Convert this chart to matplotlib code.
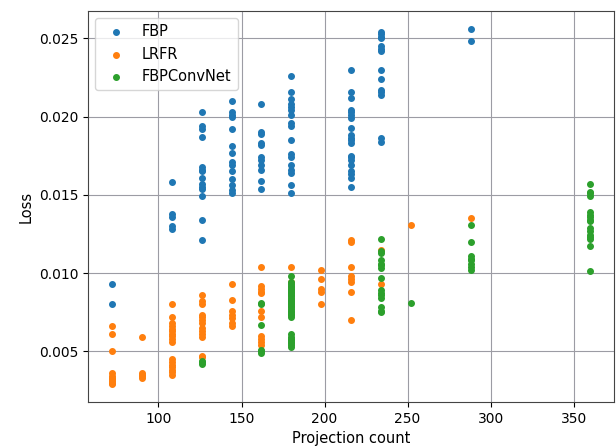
import matplotlib
matplotlib.use('Agg')
import matplotlib.pyplot as plt

# loss per projection count
fbp_loss = {
    72: [0.0093, 0.0080],
    108: [0.0158, 0.0138, 0.0136, 0.0130, 0.0128],
    126: [0.0203, 0.0194, 0.0192, 0.0187, 0.0168, 0.0166, 0.0165, 0.0161,
          0.0157, 0.0155, 0.0154, 0.0149, 0.0134, 0.0121],
    144: [0.0210, 0.0203, 0.0201, 0.0200, 0.0192, 0.0181, 0.0177, 0.0171,
          0.0169, 0.0165, 0.0160, 0.0156, 0.0153, 0.0151],
    162: [0.0208, 0.0190, 0.0189, 0.0183, 0.0182, 0.0174, 0.0172, 0.0169,
          0.0166, 0.0159, 0.0154],
    180: [0.0226, 0.0216, 0.0211, 0.0208, 0.0206, 0.0204, 0.0201, 0.0196,
          0.0194, 0.0185, 0.0176, 0.0174, 0.0169, 0.0166, 0.0164, 0.0156, 0.0151],
    216: [0.0230, 0.0216, 0.0212, 0.0204, 0.0203, 0.0201, 0.0199, 0.0193,
          0.0188, 0.0186, 0.0185, 0.0183, 0.0175, 0.0174, 0.0172, 0.0169,
          0.0165, 0.0163, 0.0161, 0.0155],
    234: [0.0254, 0.0253, 0.0251, 0.0250, 0.0245, 0.0243, 0.0242, 0.0230,
          0.0224, 0.0217, 0.0216, 0.0214, 0.0186, 0.0184],
    288: [0.0256, 0.0248],
}

lrfr_loss = {
    72: [0.0066, 0.0061, 0.0050, 0.0036, 0.0034, 0.0033, 0.0032, 0.0031, 0.0030, 0.0029],
    90: [0.0059, 0.0036, 0.0035, 0.0034, 0.0033],
    108: [0.0080, 0.0072, 0.0068, 0.0066, 0.0064, 0.0063, 0.0061, 0.0060,
          0.0058, 0.0056, 0.0045, 0.0043, 0.0041, 0.0040, 0.0038, 0.0037, 0.0035],
    126: [0.0086, 0.0082, 0.0080, 0.0073, 0.0072, 0.0070, 0.0068, 0.0065,
          0.0063, 0.0061, 0.0059, 0.0047, 0.0046],
    144: [0.0093, 0.0083, 0.0076, 0.0073, 0.0071, 0.0068, 0.0066],
    162: [0.0104, 0.0092, 0.0090, 0.0088, 0.0087, 0.0076, 0.0072, 0.0060,
          0.0058, 0.0056, 0.0054],
    180: [0.0104, 0.0094, 0.0088, 0.0082],
    198: [0.0102, 0.0096, 0.0090, 0.0088, 0.0080],
    216: [0.0121, 0.0120, 0.0104, 0.0098, 0.0096, 0.0094, 0.0088, 0.0070],
    234: [0.0115, 0.0093],
    252: [0.0131],
    288: [0.0135],
}

convnet_loss = {
    126: [0.0044, 0.0043, 0.0042],
    162: [0.0081, 0.0080, 0.0067, 0.0051, 0.0050, 0.0049],
    180: [0.0098, 0.0094, 0.0093, 0.0092, 0.0091, 0.0090, 0.0089, 0.0088,
          0.0087, 0.0086, 0.0085, 0.0084, 0.0083, 0.0082, 0.0081, 0.0080,
          0.0079, 0.0078, 0.0077, 0.0076, 0.0075, 0.0074, 0.0073, 0.0072,
          0.0061, 0.0059, 0.0058, 0.0057, 0.0056, 0.0055, 0.0054, 0.0053],
    234: [0.0122, 0.0114, 0.0113, 0.0108, 0.0106, 0.0105, 0.0103, 0.0097,
          0.0089, 0.0087, 0.0086, 0.0084, 0.0078, 0.0076, 0.0075],
    252: [0.0081],
    288: [0.0131, 0.0120, 0.0111, 0.0109, 0.0108, 0.0106, 0.0104, 0.0102],
    360: [0.0157, 0.0152, 0.0151, 0.0149, 0.0139, 0.0137, 0.0136, 0.0134,
          0.0133, 0.0129, 0.0127, 0.0124, 0.0123, 0.0122, 0.0117, 0.0101],
}


def flatten(loss_by_count):
    xs, ys = [], []
    for count, losses in loss_by_count.items():
        xs += [count] * len(losses)
        ys += losses
    return xs, ys


fig = plt.figure(figsize=(6.16, 4.47), dpi=100)
ax = fig.add_axes([0.143, 0.101, 0.854, 0.874])

for label, data in [('FBP', fbp_loss), ('LRFR', lrfr_loss), ('FBPConvNet', convnet_loss)]:
    xs, ys = flatten(data)
    ax.scatter(xs, ys, s=16, label=label)

ax.set_xlabel('Projection count', fontsize=10.5)
ax.set_ylabel('Loss', fontsize=10.5)
ax.grid(True, color='#9c9ca4', linewidth=0.8)
ax.set_axisbelow(True)
for spine in ax.spines.values():
    spine.set_edgecolor('#444444')
ax.legend(loc='upper left', fontsize=10.5)

fig.savefig('out.png', dpi=100)
